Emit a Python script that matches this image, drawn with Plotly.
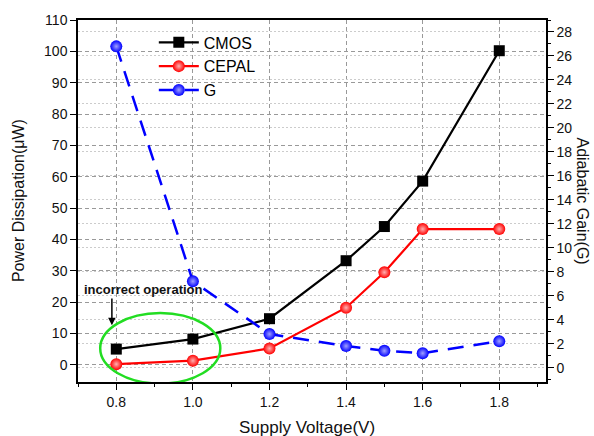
import plotly.graph_objects as go

voltage = [0.8, 1.0, 1.2, 1.4, 1.5, 1.6, 1.8]
cmos_power = [5.0, 8.2, 14.7, 33.2, 44.1, 58.6, 100.2]
cepal_power = [0.2, 1.3, 5.2, 18.2, 29.5, 43.3, 43.3]
gain = [26.8, 7.2, 2.8, 1.8, 1.4, 1.2, 2.2]

x_ticks = [0.8, 1.0, 1.2, 1.4, 1.6, 1.8]
x_ticklabels = ["0.8", "1.0", "1.2", "1.4", "1.6", "1.8"]

FONT = "Liberation Sans, Arial, sans-serif"

fig = go.Figure()

fig.add_trace(go.Scatter(
    x=voltage, y=cmos_power, name="CMOS", mode="lines+markers",
    line=dict(color="black", width=2.2),
    marker=dict(symbol="square", size=11, color="black"),
    yaxis="y"))
fig.add_trace(go.Scatter(
    x=voltage, y=cepal_power, name="CEPAL", mode="lines+markers",
    line=dict(color="#ff0000", width=2.2),
    marker=dict(symbol="circle", size=12, color="#ff0000",
                gradient=dict(type="radial", color="#ffb0b0")),
    yaxis="y"))
fig.add_trace(go.Scatter(
    x=voltage, y=gain, name="G", mode="lines+markers",
    line=dict(color="#0000ff", width=2.5, dash="16px,10px"),
    marker=dict(symbol="circle", size=12, color="#0000ff",
                gradient=dict(type="radial", color="#a0a0ff")),
    yaxis="y2"))

fig.update_layout(
    width=594, height=436,
    margin=dict(l=78, r=48, t=18, b=54),
    paper_bgcolor="white", plot_bgcolor="white",
    font=dict(family=FONT, size=14, color="#111"),
    showlegend=True,
    legend=dict(x=0.162, y=0.985, xanchor="left", yanchor="top",
                bgcolor="rgba(0,0,0,0)", font=dict(size=16, color="black"),
                tracegroupgap=0, itemwidth=40),
    xaxis=dict(range=[0.7, 1.922], tickvals=x_ticks, ticktext=x_ticklabels,
               showline=True, linecolor="black", linewidth=1.5, mirror=True,
               ticks="outside", ticklen=6, tickcolor="black",
               minor=dict(dtick=0.1, tick0=0.7, ticks="outside", ticklen=3, tickcolor="black", showgrid=False),
               showgrid=True, gridcolor="#999", griddash="4px,3px", gridwidth=1,
               zeroline=False, tickfont=dict(size=14)),
    yaxis=dict(range=[-5.5, 110], dtick=10, tick0=0,
               showline=True, linecolor="black", linewidth=1.5,
               ticks="outside", ticklen=6, tickcolor="black",
               showgrid=True, gridcolor="#999", griddash="4px,3px", gridwidth=1,
               zeroline=False, tickfont=dict(size=14)),
    yaxis2=dict(range=[-1.2, 29], dtick=2, tick0=0, overlaying="y", side="right",
                showline=True, linecolor="black", linewidth=1.5,
                ticks="outside", ticklen=6, tickcolor="black",
                minor=dict(dtick=1, ticks="outside", ticklen=3, tickcolor="black", showgrid=False),
                showgrid=True, gridcolor="#ccc", griddash="2px,2px", gridwidth=1,
                zeroline=False, tickfont=dict(size=14)),
)

# axis titles as annotations
fig.add_annotation(text="Power Dissipation(μW)", xref="paper", yref="paper",
                   x=-0.128, y=0.5, xanchor="center", yanchor="middle",
                   textangle=-90, showarrow=False,
                   font=dict(size=16, color="#111"))
fig.add_annotation(text="Adiabatic Gain(G)", xref="paper", yref="paper",
                   x=1.078, y=0.5, xanchor="center", yanchor="middle",
                   textangle=90, showarrow=False,
                   font=dict(size=16, color="#111"))
fig.add_annotation(text="Supply Voltage(V)", xref="paper", yref="paper",
                   x=0.49, y=-0.126, xanchor="center", yanchor="middle", showarrow=False,
                   font=dict(size=17, color="#111"))

# incorrect operation annotation
fig.add_annotation(text="<b>incorrect operation</b>", x=0.8, y=24.0, xref="x", yref="y",
                   xanchor="center", showarrow=False, xshift=27,
                   font=dict(size=13, color="#111"))
fig.add_annotation(x=0.7885, y=12.6, ax=0.7885, ay=21.6, xref="x", yref="y",
                   axref="x", ayref="y", showarrow=True, arrowhead=2,
                   arrowsize=1, arrowwidth=1.5, arrowcolor="black", text="")

# green ellipse
fig.add_shape(type="circle", xref="x", yref="y", x0=0.758, x1=1.0716, y0=-6.0, y1=16.5,
              line=dict(color="#22dd22", width=2.5))

fig.write_html("out.html", config={"displayModeBar": False},
               post_script="document.body.style.margin='0';document.body.style.overflow='hidden';")
